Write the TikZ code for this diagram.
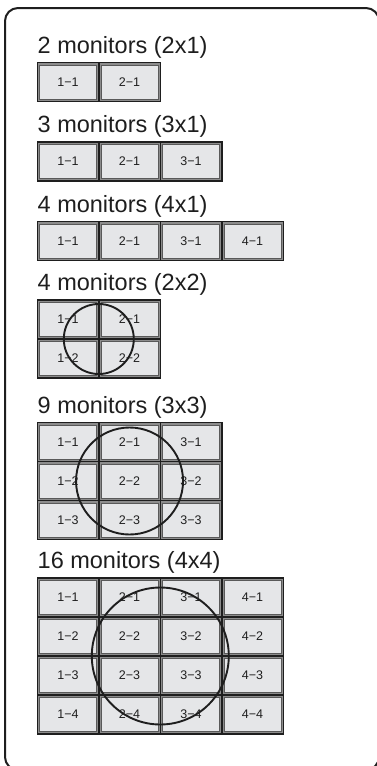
\documentclass[tikz,border=0pt]{standalone}
\usepackage{fontspec}
\setmainfont{Liberation Sans}
\usetikzlibrary{calc}
\definecolor{celllight}{RGB}{229,230,232}
\definecolor{inkdark}{RGB}{30,30,30}
\begin{document}
\begin{tikzpicture}[x=1pt,y=-1pt,
  cellbox/.style={rectangle, draw=inkdark, line width=1.4pt, fill=black!45,
    minimum width=61.5pt, minimum height=39pt, inner sep=0pt, outer sep=0pt,
    font=\fontsize{12.5}{12.5}\selectfont, text=inkdark,
    path picture={\fill[draw=black!65, line width=0.6pt, fill=celllight]
      ([shift={(2.3pt,2.3pt)}]path picture bounding box.south west) rectangle
      ([shift={(-2.3pt,-2.3pt)}]path picture bounding box.north east);}},
  titletext/.style={anchor=base west, inner sep=0pt, font=\fontsize{23.5}{27}\selectfont, text=inkdark},
  ring/.style={circle, draw=inkdark, line width=1.9pt, inner sep=0pt}
]
\useasboundingbox (0,0) rectangle (377,766);
\draw[line width=2pt, draw=inkdark, rounded corners=13pt] (5,8) rectangle (379,770);

\node[titletext] (t1) at (37.5,53) {2 monitors (2x1)};
\node[titletext] (t2) at (37.5,132.5) {3 monitors (3x1)};
\node[titletext] (t3) at (37.5,212) {4 monitors (4x1)};
\node[titletext] (t4) at (37.5,290.5) {4 monitors (2x2)};
\node[titletext] (t5) at (37.5,413) {9 monitors (3x3)};
\node[titletext] (t6) at (37.5,568.5) {16 monitors (4x4)};

\foreach \gname/\nc/\nr/\gtop in {a/2/1/62.5, b/3/1/142, c/4/1/221.5, d/2/2/300, e/3/3/422.5, f/4/4/578} {
  \foreach \c in {1,...,\nc} {
    \foreach \r in {1,...,\nr} {
      \node[cellbox, anchor=north west] (\gname-\c-\r) at ({37.3+61.5*(\c-1)}, {\gtop+39*(\r-1)}) {\c−\r};
    }
  }
}

\node[ring, minimum size=70pt] (ringd) at ($(d-1-1.north west)!0.5!(d-2-2.south east)$) {};
\node[ring, minimum size=107pt] (ringe) at ($(e-1-1.north west)!0.5!(e-3-3.south east)$) {};
\node[ring, minimum size=137pt] (ringf) at ($(f-1-1.north west)!0.5!(f-4-4.south east)$) {};
\end{tikzpicture}
\end{document}
